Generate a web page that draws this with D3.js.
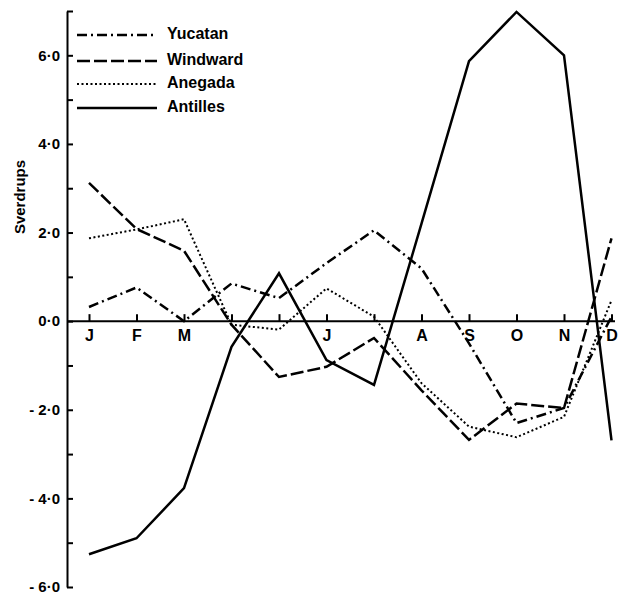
<!DOCTYPE html>
<html>
<head>
<meta charset="utf-8">
<script src="https://cdn.jsdelivr.net/npm/d3@7"></script>
<style>
  body { margin: 0; background: #fff; }
  svg { display: block; }
  text { font-family: "Liberation Sans", Arial, sans-serif; font-weight: bold; fill: #000; }
</style>
</head>
<body>
<script>
var months = ["J", "F", "M", "A", "M", "J", "J", "A", "S", "O", "N", "D"];
var monthLabels = ["J", "F", "M", "", "", "J", "", "A", "S", "O", "N", "D"];

var yucatan = [0.32, 0.76, 0.0, 0.85, 0.52, 1.31, 2.05, 1.19, -0.5, -2.3, -1.96, 0.1];
var windward = [3.12, 2.08, 1.59, -0.08, -1.26, -1.03, -0.38, -1.56, -2.68, -1.86, -1.96, 1.87];
var anegada = [1.87, 2.07, 2.3, -0.08, -0.19, 0.74, 0.1, -1.4, -2.38, -2.62, -2.16, 0.47];
var antilles = [-5.26, -4.9, -3.77, -0.58, 1.08, -0.88, -1.44, 2.2, 5.87, 6.98, 6.0, -2.69];

var seriesNames = ["Yucatan", "Windward", "Anegada", "Antilles"];
var seriesData = [yucatan, windward, anegada, antilles];
var dashes = ["10,4,2,4", "13,4", "2,2.5", null];

var width = 620, height = 595;

var svg = d3.select("body").append("svg")
  .attr("width", width)
  .attr("height", height);

var x = d3.scaleLinear().domain([0, 11]).range([89, 611.5]);
var y = d3.scaleLinear().domain([-6, 7]).range([587, 11]);

var fmt = function(d) {
  if (d % 2 !== 0) return "";
  return d3.format(".1f")(d).replace(".", "\u00b7").replace("\u2212", "- ");
};

// y axis: ticks point inwards, labels on the left
var yAxis = svg.append("g")
  .attr("transform", "translate(67,0)")
  .call(d3.axisLeft(y).tickValues(d3.range(-6, 8)).tickSizeInner(-6).tickSizeOuter(0).tickPadding(7).tickFormat(fmt));
yAxis.select(".domain").attr("stroke-width", 2);
yAxis.selectAll(".tick line").attr("stroke-width", 2);
yAxis.selectAll("text").attr("font-size", 15).attr("font-family", null);

// x axis at zero
var xAxis = svg.append("g")
  .attr("transform", "translate(0," + y(0) + ")")
  .call(d3.axisBottom(x).tickValues(d3.range(12)).tickSizeInner(-7).tickSizeOuter(0).tickPadding(8)
    .tickFormat(function(d, i) { return monthLabels[i]; }));
xAxis.select(".domain").attr("d", "M67,0H615").attr("stroke-width", 2);
xAxis.selectAll(".tick line").attr("stroke-width", 2);
xAxis.selectAll("text").attr("font-size", 16).attr("font-family", null);

svg.append("text")
  .attr("transform", "translate(21,197) rotate(-90)")
  .attr("text-anchor", "middle")
  .attr("dominant-baseline", "middle")
  .attr("font-size", 15)
  .text("Sverdrups");

var line = d3.line()
  .x(function(d, i) { return x(i); })
  .y(function(d) { return y(d); });

svg.selectAll("path.series")
  .data(seriesData)
  .enter().append("path")
  .attr("class", "series")
  .attr("d", line)
  .attr("fill", "none")
  .attr("stroke", "#000")
  .attr("stroke-width", function(d, i) { return i === 2 ? 2 : 2.5; })
  .attr("stroke-dasharray", function(d, i) { return dashes[i]; });

// legend
var legend = svg.append("g");
var legendY = [35, 61, 84, 108];
seriesNames.forEach(function(name, i) {
  legend.append("line")
    .attr("x1", 77).attr("x2", 157)
    .attr("y1", legendY[i]).attr("y2", legendY[i])
    .attr("stroke", "#000")
    .attr("stroke-width", i === 2 ? 2 : 2.5)
    .attr("stroke-dasharray", dashes[i]);
  legend.append("text")
    .attr("x", 167).attr("y", legendY[i])
    .attr("dominant-baseline", "middle")
    .attr("font-size", 16)
    .text(name);
});
</script>
</body>
</html>
